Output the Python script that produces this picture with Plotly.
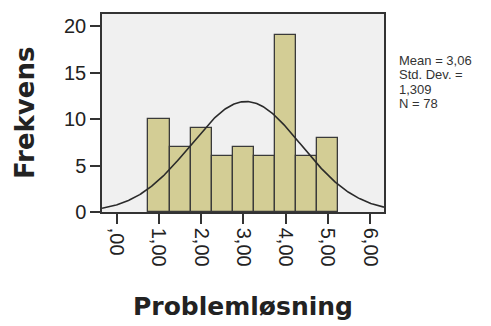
import numpy as np
import plotly.graph_objects as go

# Data
bin_centers = [1.0, 1.5, 2.0, 2.5, 3.0, 3.5, 4.0, 4.5, 5.0]
frequencies = [10, 7, 9, 6, 7, 6, 19, 6, 8]
bin_width = 0.5
mean_val = 3.06
std_val = 1.309
n_val = 78
x_tick_vals = [0, 1, 2, 3, 4, 5, 6]
x_tick_text = [",00", "1,00", "2,00", "3,00", "4,00", "5,00", "6,00"]
y_tick_vals = [0, 5, 10, 15, 20]
stats_lines = ["Mean = 3,06", "Std. Dev. =", "1,309", "N = 78"]

W, H = 491, 326
L, R, T, B = 102, 107, 14, 114
x_range = [-0.35, 6.33]
y_range = [0, 21.3]

xs = np.linspace(x_range[0], x_range[1], 300)
curve = n_val * bin_width / (std_val * np.sqrt(2 * np.pi)) * np.exp(-0.5 * ((xs - mean_val) / std_val) ** 2)

fig = go.Figure()
fig.add_trace(go.Bar(
    x=bin_centers, y=frequencies, width=bin_width,
    marker=dict(color="#D3CD95", line=dict(color="#3a3a3a", width=1.3)),
    hoverinfo="skip",
))
fig.add_trace(go.Scatter(
    x=xs, y=curve, mode="lines",
    line=dict(color="#2a2a2a", width=1.6), hoverinfo="skip",
))

tick_font = dict(family="Liberation Sans, Arial, sans-serif", size=20, color="#222222")
fig.update_layout(
    width=W, height=H,
    margin=dict(l=L, r=R, t=T, b=B),
    paper_bgcolor="white",
    plot_bgcolor="#F0F0F0",
    showlegend=False,
    bargap=0,
    xaxis=dict(
        range=x_range, tickmode="array", tickvals=x_tick_vals, ticktext=x_tick_text,
        tickangle=90, ticks="outside", ticklen=10, tickwidth=1.5, tickcolor="#333333",
        showgrid=False, zeroline=False, showline=True, linecolor="#333333", linewidth=1.5,
        mirror=True, tickfont=tick_font,
    ),
    yaxis=dict(
        range=y_range, tickmode="array", tickvals=y_tick_vals,
        ticks="outside", ticklen=10, tickwidth=1.5, tickcolor="#333333",
        showgrid=False, zeroline=False, showline=True, linecolor="#333333", linewidth=1.5,
        mirror=True, tickfont=tick_font,
    ),
)

pw = W - L - R
ph = H - T - B
def px_x(x):
    return (x - L) / pw
def px_y(y):
    return (H - B - y) / ph

annotations = [
    dict(text="<b>Frekvens</b>", x=px_x(25), y=px_y(113), xref="paper", yref="paper",
         xanchor="center", yanchor="middle", textangle=-90, showarrow=False,
         font=dict(family="DejaVu Sans", size=26, color="#222222")),
    dict(text="<b>Problemløsning</b>", x=px_x(243), y=px_y(306), xref="paper", yref="paper",
         xanchor="center", yanchor="middle", showarrow=False,
         font=dict(family="DejaVu Sans", size=25, color="#222222")),
]
for i, line in enumerate(stats_lines):
    annotations.append(dict(
        text=line, x=px_x(398), y=px_y(60 + 14.5 * i), xref="paper", yref="paper",
        xanchor="left", yanchor="middle", showarrow=False, borderpad=0,
        font=dict(family="Liberation Sans, Arial, sans-serif", size=13, color="#333333"),
    ))
fig.update_layout(annotations=annotations)

fig.write_html("out.html")
